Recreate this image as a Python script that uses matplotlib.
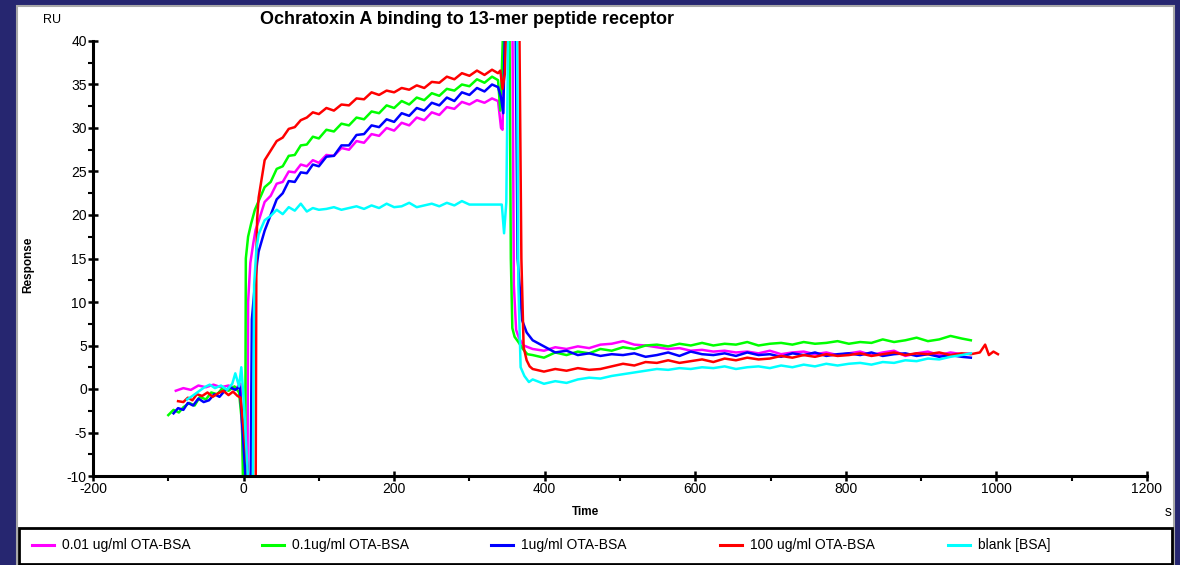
import numpy as np
import matplotlib
matplotlib.use("Agg")
import matplotlib.pyplot as plt
from matplotlib.patches import Rectangle
from matplotlib.lines import Line2D
from matplotlib.ticker import MultipleLocator

plt.rcParams['font.family'] = ['Liberation Sans', 'DejaVu Sans']
plt.rcParams['axes.unicode_minus'] = False

# shared time grids (s)
t_assoc = [20, 28, 36, 44, 52, 60, 68, 76, 84, 92, 100, 110, 120, 130, 140, 150, 160, 170,
           180, 190, 200, 210, 220, 230, 240, 250, 260, 270, 280, 290, 300, 310, 320, 330, 338]
t_dissoc = [384, 399, 414, 429, 444, 459, 474, 489, 504, 519, 534, 549, 564, 579, 594, 609,
            624, 639, 654, 669, 684, 699, 714, 729, 744, 759, 774, 789, 804, 819, 834, 849,
            864, 879, 894, 909, 924, 939, 954, 966]

# 0.01 ug/ml OTA-BSA (magenta)
mag_pre_t = [-90, -80, -70, -60, -50, -40, -30, -20, -10, -4, 2, 5, 6, 9, 13, 16]
mag_pre_v = [-0.2, 0.1, -0.1, 0.4, 0.2, 0.5, 0.2, 0.4, 0.1, 0.6, -15, -15, 10, 14.5, 16.8, 18.3]
mag_assoc = [19.3, 21.5, 22.2, 23.6, 23.8, 25.0, 24.9, 25.8, 25.6, 26.3, 26.0, 26.9, 26.8, 27.7,
             27.5, 28.5, 28.3, 29.3, 29.1, 30.0, 29.7, 30.6, 30.3, 31.2, 30.9, 31.8, 31.5, 32.4,
             32.2, 33.0, 32.7, 33.2, 32.9, 33.4, 33.1]
mag_end_t = [342, 344, 347, 357, 359, 362, 366, 372, 378]
mag_end_v = [30.0, 29.8, 45, 45, 12, 6.8, 5.8, 5.0, 4.8]
mag_dissoc = [4.6, 4.4, 4.8, 4.6, 4.9, 4.7, 5.1, 5.2, 5.5, 5.1, 5.0, 4.8, 4.6, 4.7, 4.4, 4.5,
              4.3, 4.4, 4.2, 4.3, 4.1, 4.4, 4.0, 4.2, 4.3, 4.0, 4.2, 3.9, 4.1, 4.3, 3.9, 4.2,
              4.4, 3.8, 4.1, 4.3, 3.9, 4.2, 4.0, 4.1]

# 0.1 ug/ml OTA-BSA (green)
grn_pre_t = [-100, -93, -86, -80, -72, -65, -58, -50, -43, -35, -28, -20, -12, -6, -2, 0, 2, 3, 6, 10, 15]
grn_pre_v = [-3.0, -2.4, -2.7, -2.1, -1.6, -1.9, -0.9, -1.2, -0.4, -0.6, 0.1, -0.2, 0.3, -0.4,
             -4.0, -15, -15, 15, 17.5, 19.0, 20.6]
grn_assoc = [21.6, 23.2, 23.8, 25.3, 25.6, 26.8, 26.9, 28.0, 28.1, 29.0, 28.8, 29.8, 29.6, 30.5,
             30.3, 31.2, 31.0, 31.9, 31.7, 32.6, 32.3, 33.1, 32.7, 33.5, 33.2, 34.0, 33.7, 34.5,
             34.3, 35.0, 34.8, 35.6, 35.2, 35.9, 35.5]
grn_end_t = [341, 343, 346, 353, 355, 357, 360, 365, 371, 377]
grn_end_v = [32.0, 36.5, 45, 45, 15, 7.0, 6.0, 5.4, 4.6, 4.0]
grn_dissoc = [3.9, 3.6, 4.2, 3.9, 4.3, 4.1, 4.6, 4.4, 4.8, 4.6, 5.0, 5.1, 4.9, 5.2, 5.0, 5.3,
              5.0, 5.2, 5.1, 5.4, 5.0, 5.2, 5.3, 5.1, 5.4, 5.2, 5.3, 5.5, 5.2, 5.4, 5.3, 5.7,
              5.4, 5.6, 5.9, 5.5, 5.7, 6.1, 5.8, 5.6]

# 1 ug/ml OTA-BSA (blue)
blu_pre_t = [-93, -87, -80, -74, -67, -60, -53, -46, -39, -32, -25, -18, -11, -5, 6, 9, 11, 15, 18]
blu_pre_v = [-2.8, -2.2, -2.4, -1.6, -1.9, -1.1, -1.5, -1.3, -0.6, -0.9, -0.2, 0.2, -0.1, 0.3,
             -15, -15, 8, 12, 14.5]
blu_assoc = [15.8, 18.2, 20.0, 21.8, 22.5, 23.9, 23.8, 24.9, 24.8, 25.8, 25.6, 26.7, 26.8, 28.0,
             28.0, 29.2, 29.3, 30.3, 30.1, 31.0, 30.7, 31.7, 31.4, 32.3, 32.0, 32.9, 32.6, 33.5,
             33.1, 34.1, 33.8, 34.6, 34.2, 35.0, 34.7]
blu_end_t = [342, 345, 348, 361, 364, 370, 376]
blu_end_v = [33.5, 31.7, 45, 45, 15, 7.9, 6.5]
blu_dissoc = [5.6, 4.9, 4.2, 4.4, 3.9, 4.1, 3.8, 4.0, 3.9, 4.1, 3.7, 3.9, 4.2, 3.8, 4.3, 4.0,
              3.9, 4.1, 3.8, 4.2, 3.9, 4.0, 3.7, 4.1, 3.9, 4.2, 3.8, 4.0, 4.1, 3.9, 4.2, 3.8,
              4.0, 4.1, 3.8, 4.0, 3.7, 3.9, 3.7, 3.6]

# 100 ug/ml OTA-BSA (red)
red_pre_t = [-87, -80, -74, -68, -62, -55, -48, -41, -34, -27, -20, -14, -8, -4, 12, 16, 17, 18]
red_pre_v = [-1.4, -1.5, -1.0, -1.3, -0.6, -0.8, -0.4, -0.9, -0.5, -0.2, -0.7, -0.3, -0.8, -1.0,
             -15, -15, 15, 19.5]
red_assoc = [22.0, 26.3, 27.4, 28.5, 28.9, 29.9, 30.1, 30.9, 31.2, 31.8, 31.6, 32.3, 32.0, 32.7,
             32.6, 33.4, 33.3, 34.1, 33.8, 34.3, 34.1, 34.6, 34.4, 34.9, 34.6, 35.3, 35.2, 35.9,
             35.6, 36.3, 36.0, 36.6, 36.1, 36.7, 36.3]
red_end_t = [341, 344, 347, 350, 366, 369, 372, 376, 380]
red_end_v = [36.6, 34.5, 36.2, 45, 45, 15, 4.8, 3.3, 2.6]
red_dissoc = [2.3, 2.0, 2.3, 2.1, 2.4, 2.2, 2.3, 2.6, 2.9, 2.7, 3.1, 3.0, 3.3, 3.0, 3.2, 3.4,
              3.1, 3.5, 3.3, 3.6, 3.4, 3.5, 3.8, 3.6, 3.9, 3.7, 4.0, 3.8, 3.9, 4.1, 3.8, 4.0,
              4.2, 3.9, 4.1, 4.0, 4.2, 3.9, 4.1, 4.0]
red_tail_t = [978, 985, 990, 996, 1002]
red_tail_v = [4.2, 5.1, 3.9, 4.3, 4.0]

# blank [BSA] (cyan)
cyn_pre_t = [-75, -68, -60, -52, -45, -38, -30, -22, -15, -11, -6, -3, 0, 9, 12, 14, 17]
cyn_pre_v = [-1.2, -0.8, -0.3, 0.2, 0.5, 0.1, 0.4, -0.1, 0.6, 1.8, 0.3, 2.5, -1.0, -15, -15, 12, 16]
cyn_assoc = [17.8, 19.4, 19.9, 20.6, 20.1, 20.9, 20.5, 21.3, 20.4, 20.8, 20.6, 20.7, 20.9, 20.6,
             20.8, 21.0, 20.7, 21.1, 20.8, 21.3, 20.9, 21.0, 21.4, 20.9, 21.1, 21.3, 21.0, 21.4,
             21.1, 21.6, 21.2, 21.2, 21.2, 21.2, 21.2]
cyn_end_t = [343, 346, 349, 352, 363, 365, 368, 373, 379]
cyn_end_v = [21.2, 17.9, 21.5, 45, 45, 12, 2.5, 1.5, 0.8]
cyn_dissoc = [1.1, 0.6, 0.9, 0.7, 1.1, 1.3, 1.2, 1.5, 1.7, 1.9, 2.1, 2.3, 2.2, 2.4, 2.3, 2.5,
              2.4, 2.6, 2.3, 2.5, 2.6, 2.4, 2.7, 2.5, 2.8, 2.6, 2.9, 2.7, 2.9, 3.0, 2.8, 3.1,
              3.0, 3.3, 3.2, 3.5, 3.4, 3.7, 3.9, 4.1]

labels = ["0.01 ug/ml OTA-BSA", "0.1ug/ml OTA-BSA", "1ug/ml OTA-BSA",
          "100 ug/ml OTA-BSA", "blank [BSA]"]
colors = ["#ff00ff", "#00ff00", "#0000ff", "#ff0000", "#00ffff"]

series = [
    (mag_pre_t + t_assoc + mag_end_t + t_dissoc, mag_pre_v + mag_assoc + mag_end_v + mag_dissoc),
    (grn_pre_t + t_assoc + grn_end_t + t_dissoc, grn_pre_v + grn_assoc + grn_end_v + grn_dissoc),
    (blu_pre_t + t_assoc + blu_end_t + t_dissoc, blu_pre_v + blu_assoc + blu_end_v + blu_dissoc),
    (red_pre_t + t_assoc + red_end_t + t_dissoc + red_tail_t,
     red_pre_v + red_assoc + red_end_v + red_dissoc + red_tail_v),
    (cyn_pre_t + t_assoc + cyn_end_t + t_dissoc, cyn_pre_v + cyn_assoc + cyn_end_v + cyn_dissoc),
]

W, H = 1180, 565
fig = plt.figure(figsize=(W / 100, H / 100), dpi=100, facecolor="#262670")

# white panel with grey frame
fig.patches.append(Rectangle((17 / W, 0), 1157 / W, (H - 6) / H, transform=fig.transFigure,
                             facecolor="white", edgecolor="#a8a8a8", lw=1.5, zorder=-5))
# legend box
fig.patches.append(Rectangle((19 / W, 1 / H), 1153 / W, 36 / H, transform=fig.transFigure,
                             facecolor="white", edgecolor="black", lw=2, zorder=-4))

ax = fig.add_axes([93 / W, (H - 476) / H, 1054 / W, 435 / H])
ax.set_facecolor("none")
ax.set_zorder(2)

for (t, v), c in zip(series, colors):
    ax.plot(t, v, color=c, lw=1.8)

ax.set_xlim(-200, 1200)
ax.set_ylim(-10, 40)
ax.xaxis.set_major_locator(MultipleLocator(200))
ax.xaxis.set_minor_locator(MultipleLocator(100))
ax.yaxis.set_major_locator(MultipleLocator(5))
ax.yaxis.set_minor_locator(MultipleLocator(2.5))
for s in ["top", "right"]:
    ax.spines[s].set_visible(False)
for s in ["left", "bottom"]:
    ax.spines[s].set_linewidth(2.2)
ax.tick_params(which="major", direction="inout", length=7, width=1.8, labelsize=10, pad=1)
ax.tick_params(which="minor", direction="out", length=3.5, width=1.5)

# texts
fig.text(467 / W, 1 - 20 / H, "Ochratoxin A binding to 13-mer peptide receptor",
         ha="center", va="center", fontsize=13, fontweight="bold")
fig.text(52 / W, 1 - 20 / H, "RU", ha="center", va="center", fontsize=9)
fig.text(28 / W, 1 - 265 / H, "Response", ha="center", va="center", rotation=90,
         fontsize=8.5, fontweight="bold")
fig.text(585 / W, 1 - 512 / H, "Time", ha="center", va="center", fontsize=8.5, fontweight="bold")
fig.text(1168 / W, 1 - 512 / H, "s", ha="center", va="center", fontsize=10)

# legend entries
leg_x = [32, 262, 491, 720, 948]
for x0, c, lab in zip(leg_x, colors, labels):
    fig.add_artist(Line2D([x0 / W, (x0 + 22) / W], [1 - 545 / H, 1 - 545 / H],
                          transform=fig.transFigure, color=c, lw=2.2))
    fig.text((x0 + 30) / W, 1 - 545 / H, lab, ha="left", va="center", fontsize=10)

fig.savefig("out.png", dpi=100, facecolor=fig.get_facecolor())
